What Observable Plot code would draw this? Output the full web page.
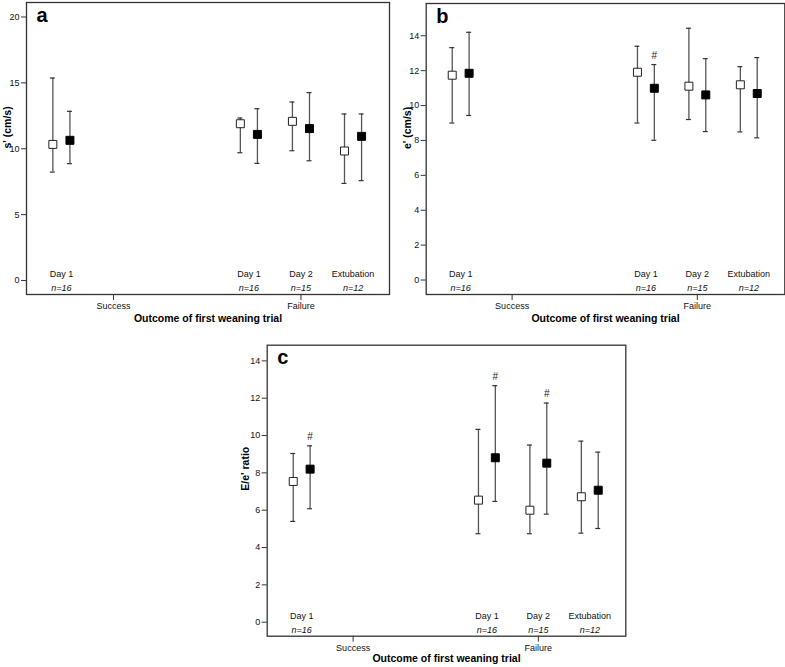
<!DOCTYPE html>
<html>
<head>
<meta charset="utf-8">
<script src="https://cdn.jsdelivr.net/npm/d3@7"></script>
<script src="https://cdn.jsdelivr.net/npm/@observablehq/plot@0.6"></script>
<style>
  html, body { margin: 0; padding: 0; background: #fff; }
  #root { position: relative; width: 785px; height: 667px; overflow: hidden; background: #fff; }
  .panel { position: absolute; }
</style>
</head>
<body>
<div id="root"></div>
<script>
// ---- categories ----
const outcomes = ["Success", "Failure"];
const timepoints = ["Day 1", "Day 2", "Extubation"];
const cellOutcome = ["Success", "Failure", "Failure", "Failure"];
const cellTime = ["Day 1", "Day 1", "Day 2", "Extubation"];
const nLabels = ["n=16", "n=16", "n=15", "n=12"];
const xTitle = "Outcome of first weaning trial";

// ---- panel a: s' (cm/s) ----
const aOpenMean   = [10.33, 11.90, 12.08, 9.83];
const aOpenLow    = [8.23, 9.70, 9.85, 7.37];
const aOpenHigh   = [15.37, 12.33, 13.55, 12.64];
const aFilledMean = [10.64, 11.09, 11.53, 10.94];
const aFilledLow  = [8.87, 8.89, 9.09, 7.58];
const aFilledHigh = [12.84, 13.04, 14.26, 12.64];
const aSig        = [false, false, false, false];
const aTicks      = [0, 5, 10, 15, 20];

// ---- panel b: e' (cm/s) ----
const bOpenMean   = [11.74, 11.91, 11.11, 11.19];
const bOpenLow    = [9.00, 9.00, 9.20, 8.49];
const bOpenHigh   = [13.32, 13.40, 14.43, 12.23];
const bFilledMean = [11.85, 10.99, 10.61, 10.69];
const bFilledLow  = [9.43, 8.01, 8.51, 8.15];
const bFilledHigh = [14.20, 12.35, 12.69, 12.75];
const bSig        = [false, true, false, false];
const bTicks      = [0, 2, 4, 6, 8, 10, 12, 14];

// ---- panel c: E/e' ratio ----
const cOpenMean   = [7.54, 6.54, 6.00, 6.72];
const cOpenLow    = [5.40, 4.74, 4.74, 4.77];
const cOpenHigh   = [9.04, 10.33, 9.49, 9.70];
const cFilledMean = [8.20, 8.81, 8.52, 7.07];
const cFilledLow  = [6.08, 6.47, 5.79, 5.02];
const cFilledHigh = [9.45, 12.67, 11.74, 9.11];
const cSig        = [true, true, true, false];
const cTicks      = [0, 2, 4, 6, 8, 10, 12, 14];

// layout constants (scale units)
const GROUP_STEP = 3.6;   // distance between outcome clusters
const OFF = 0.164;        // open/filled offset within a slot
const CAP = 0.048;        // half width of error bar caps

const FONT = "'Liberation Sans', Arial, Helvetica, sans-serif";

function slot(o, t) { return outcomes.indexOf(o) * GROUP_STEP + timepoints.indexOf(t); }

function makePanel(cfg) {
  const rows = [];
  cellOutcome.forEach((o, i) => {
    const t = cellTime[i];
    rows.push({o, t, series: "open", mean: cfg.openMean[i], lo: cfg.openLow[i], hi: cfg.openHigh[i], sig: false});
    rows.push({o, t, series: "filled", mean: cfg.filledMean[i], lo: cfg.filledLow[i], hi: cfg.filledHigh[i], sig: cfg.sig[i]});
  });
  const labels = cellOutcome.map((o, i) => ({o, t: cellTime[i], n: nLabels[i]}));
  const xp = d => slot(d.o, d.t) + (d.series === "open" ? -OFF : OFF);
  const xc = d => slot(d.o, d.t);
  const outcomeTicks = outcomes.map(o => slot(o, "Day 2"));

  return Plot.plot({
    width: cfg.width, height: cfg.height,
    marginLeft: cfg.ml, marginRight: cfg.mr, marginTop: cfg.mt, marginBottom: cfg.mb,
    style: {fontFamily: FONT, fontSize: "9px", color: "#111", background: "white", overflow: "visible"},
    x: {domain: [-0.67, 6.3], axis: null},
    y: {domain: cfg.yDomain, axis: null},
    marks: [
      Plot.axisY({ticks: cfg.ticks, tickSize: 5, tickPadding: 2, label: null, stroke: "#333"}),
      Plot.axisX({ticks: outcomeTicks, tickFormat: v => outcomes[outcomeTicks.indexOf(v)], tickSize: 6, tickPadding: 2, label: null, stroke: "#333"}),
      Plot.frame({stroke: "#333", strokeWidth: 1.3}),
      Plot.ruleX(rows, {x: xp, y1: "lo", y2: "hi", stroke: "#555", strokeWidth: 1.3}),
      Plot.ruleY(rows, {y: "lo", x1: d => xp(d) - CAP, x2: d => xp(d) + CAP, stroke: "#333", strokeWidth: 1.2}),
      Plot.ruleY(rows, {y: "hi", x1: d => xp(d) - CAP, x2: d => xp(d) + CAP, stroke: "#333", strokeWidth: 1.2}),
      Plot.dot(rows.filter(d => d.series === "open"), {x: xp, y: "mean", symbol: "square", r: 4.5, fill: "white", stroke: "#222", strokeWidth: 1}),
      Plot.dot(rows.filter(d => d.series === "filled"), {x: xp, y: "mean", symbol: "square", r: 4.5, fill: "black", stroke: "black", strokeWidth: 1}),
      Plot.text(rows.filter(d => d.sig), {x: xp, y: "hi", text: () => "#", dy: -9, fontSize: 10, fill: "#222"}),
      Plot.text(labels, {x: xc, y: () => 0, text: "t", dy: -6, fontSize: 9, fill: "#111"}),
      Plot.text(labels, {x: xc, y: () => 0, text: "n", dy: 8, fontSize: 9, fontStyle: "italic", fill: "#111"}),
      Plot.text([cfg.letter], {text: d => d, frameAnchor: "top-left", dx: 10, dy: 19, lineAnchor: "bottom", textAnchor: "start", fontSize: 20, fontWeight: "bold", fill: "#000"}),
      Plot.text([cfg.yLabel], {text: d => d, frameAnchor: "left", dx: cfg.yLabelDx, rotate: -90, fontSize: 10.5, fontWeight: "bold", fill: "#000"}),
      Plot.text([xTitle], {text: d => d, frameAnchor: "bottom", dy: cfg.titleDy, fontSize: 10.5, fontWeight: "bold", fill: "#000"})
    ]
  });
}

const root = document.getElementById("root");
function place(svg, left, top) {
  const div = document.createElement("div");
  div.className = "panel";
  div.style.left = left + "px";
  div.style.top = top + "px";
  div.appendChild(svg);
  root.appendChild(div);
}

place(makePanel({
  letter: "a", yLabel: "s' (cm/s)", yDomain: [-1.06, 21.1], ticks: aTicks,
  openMean: aOpenMean, openLow: aOpenLow, openHigh: aOpenHigh,
  filledMean: aFilledMean, filledLow: aFilledLow, filledHigh: aFilledHigh, sig: aSig,
  width: 390, height: 330, ml: 26, mr: 1, mt: 2, mb: 36, yLabelDx: -19, titleDy: 27
}), 0, 0);

place(makePanel({
  letter: "b", yLabel: "e' (cm/s)", yDomain: [-0.83, 15.85], ticks: bTicks,
  openMean: bOpenMean, openLow: bOpenLow, openHigh: bOpenHigh,
  filledMean: bFilledMean, filledLow: bFilledLow, filledHigh: bFilledHigh, sig: bSig,
  width: 390, height: 330, ml: 30.7, mr: 0.7, mt: 3, mb: 36, yLabelDx: -19, titleDy: 27
}), 395, 0);

place(makePanel({
  letter: "c", yLabel: "E/e' ratio", yDomain: [-0.75, 14.84], ticks: cTicks,
  openMean: cOpenMean, openLow: cOpenLow, openHigh: cOpenHigh,
  filledMean: cFilledMean, filledLow: cFilledLow, filledHigh: cFilledHigh, sig: cSig,
  width: 392, height: 327, ml: 30.7, mr: 2.7, mt: 4.7, mb: 31.3, yLabelDx: -21.7, titleDy: 26
}), 236, 340);
</script>
</body>
</html>
